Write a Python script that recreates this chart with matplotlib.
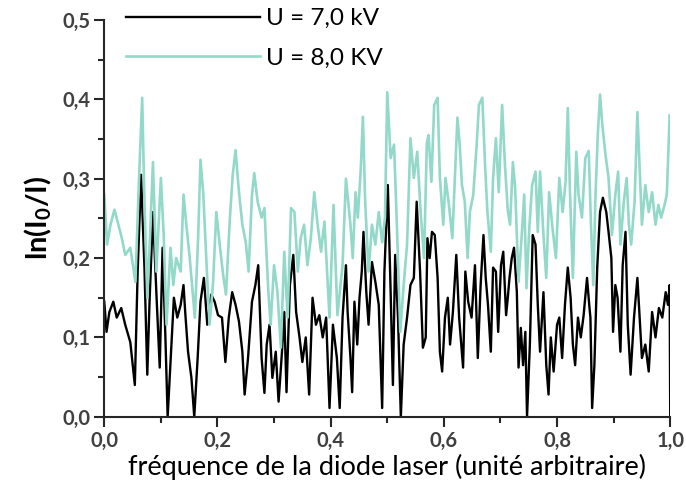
import matplotlib
matplotlib.use("Agg")
import matplotlib.pyplot as plt
from matplotlib.ticker import MultipleLocator, FuncFormatter

plt.rcParams['font.family'] = ['Lato', 'DejaVu Sans']
plt.rcParams['mathtext.default'] = 'regular'

# U = 8,0 kV (courbe turquoise)
x_8kv = [0.000, 0.005, 0.011, 0.018, 0.025, 0.031, 0.037, 0.046, 0.055, 0.061,
         0.067, 0.071, 0.076, 0.081, 0.086, 0.092, 0.100, 0.105, 0.110, 0.117,
         0.122, 0.127, 0.135, 0.140, 0.145, 0.151, 0.155, 0.160, 0.166, 0.170,
         0.175, 0.181, 0.186, 0.192, 0.198, 0.204, 0.210, 0.215, 0.222, 0.227,
         0.232, 0.238, 0.244, 0.250, 0.255, 0.261, 0.265, 0.271, 0.278, 0.283,
         0.287, 0.290, 0.294, 0.300, 0.306, 0.312, 0.318, 0.324, 0.330, 0.336,
         0.342, 0.347, 0.353, 0.359, 0.365, 0.371, 0.377, 0.383, 0.389, 0.398,
         0.405, 0.412, 0.421, 0.427, 0.435, 0.439, 0.444, 0.448, 0.453, 0.457,
         0.461, 0.467, 0.473, 0.479, 0.485, 0.491, 0.496, 0.500, 0.506, 0.512,
         0.517, 0.523, 0.529, 0.535, 0.541, 0.547, 0.553, 0.559, 0.565, 0.570,
         0.573, 0.578, 0.583, 0.589, 0.593, 0.599, 0.603, 0.609, 0.615, 0.619,
         0.624, 0.628, 0.632, 0.637, 0.642, 0.646, 0.652, 0.658, 0.662, 0.668,
         0.673, 0.677, 0.683, 0.687, 0.692, 0.697, 0.703, 0.708, 0.713, 0.717,
         0.722, 0.726, 0.732, 0.738, 0.742, 0.746, 0.751, 0.756, 0.762, 0.766,
         0.770, 0.776, 0.781, 0.786, 0.792, 0.798, 0.804, 0.810, 0.815, 0.819,
         0.823, 0.828, 0.834, 0.838, 0.844, 0.850, 0.856, 0.860, 0.864, 0.868,
         0.872, 0.876, 0.880, 0.885, 0.891, 0.897, 0.903, 0.908, 0.912, 0.918,
         0.923, 0.927, 0.931, 0.937, 0.942, 0.946, 0.950, 0.956, 0.962, 0.968,
         0.974, 0.979, 0.984, 0.990, 0.994, 0.999]
y_8kv = [0.280, 0.217, 0.242, 0.261, 0.242, 0.225, 0.204, 0.213, 0.170, 0.292,
         0.402, 0.271, 0.150, 0.229, 0.321, 0.183, 0.301, 0.229, 0.116, 0.213,
         0.166, 0.200, 0.183, 0.280, 0.242, 0.200, 0.166, 0.125, 0.229, 0.324,
         0.280, 0.188, 0.116, 0.166, 0.258, 0.217, 0.179, 0.154, 0.251, 0.305,
         0.336, 0.283, 0.242, 0.220, 0.183, 0.280, 0.307, 0.271, 0.251, 0.263,
         0.200, 0.157, 0.116, 0.191, 0.157, 0.087, 0.208, 0.125, 0.263, 0.258,
         0.183, 0.225, 0.242, 0.191, 0.225, 0.283, 0.242, 0.208, 0.246, 0.125,
         0.267, 0.128, 0.191, 0.300, 0.242, 0.200, 0.283, 0.251, 0.309, 0.378,
         0.271, 0.183, 0.242, 0.217, 0.258, 0.220, 0.251, 0.409, 0.326, 0.343,
         0.242, 0.107, 0.166, 0.217, 0.351, 0.301, 0.334, 0.258, 0.200, 0.345,
         0.355, 0.296, 0.393, 0.402, 0.301, 0.242, 0.301, 0.267, 0.225, 0.292,
         0.377, 0.343, 0.292, 0.271, 0.200, 0.258, 0.280, 0.343, 0.393, 0.402,
         0.314, 0.258, 0.208, 0.301, 0.351, 0.283, 0.393, 0.317, 0.260, 0.242,
         0.321, 0.288, 0.170, 0.233, 0.280, 0.162, 0.238, 0.292, 0.309, 0.233,
         0.309, 0.229, 0.175, 0.283, 0.238, 0.200, 0.301, 0.258, 0.296, 0.389,
         0.280, 0.175, 0.334, 0.280, 0.251, 0.326, 0.335, 0.242, 0.166, 0.280,
         0.355, 0.406, 0.368, 0.334, 0.301, 0.229, 0.280, 0.309, 0.217, 0.271,
         0.301, 0.242, 0.217, 0.271, 0.384, 0.314, 0.242, 0.292, 0.258, 0.283,
         0.242, 0.267, 0.251, 0.267, 0.280, 0.380]

# U = 7,0 kV (courbe noire)
x_7kv = [0.000, 0.004, 0.009, 0.016, 0.022, 0.030, 0.037, 0.046, 0.054, 0.059,
         0.065, 0.071, 0.076, 0.080, 0.086, 0.092, 0.098, 0.103, 0.108, 0.112,
         0.118, 0.123, 0.129, 0.135, 0.140, 0.143, 0.148, 0.154, 0.159, 0.165,
         0.170, 0.176, 0.182, 0.189, 0.195, 0.201, 0.208, 0.214, 0.220, 0.226,
         0.232, 0.238, 0.244, 0.248, 0.254, 0.261, 0.267, 0.272, 0.278, 0.283,
         0.287, 0.292, 0.297, 0.303, 0.308, 0.314, 0.318, 0.322, 0.328, 0.334,
         0.339, 0.345, 0.350, 0.356, 0.362, 0.368, 0.374, 0.380, 0.386, 0.392,
         0.398, 0.404, 0.411, 0.416, 0.421, 0.427, 0.430, 0.435, 0.438, 0.442,
         0.447, 0.451, 0.455, 0.458, 0.463, 0.467, 0.473, 0.479, 0.485, 0.491,
         0.495, 0.501, 0.506, 0.510, 0.514, 0.519, 0.524, 0.529, 0.535, 0.541,
         0.547, 0.552, 0.558, 0.563, 0.568, 0.571, 0.575, 0.579, 0.584, 0.589,
         0.593, 0.597, 0.602, 0.607, 0.611, 0.616, 0.622, 0.627, 0.634, 0.638,
         0.643, 0.649, 0.655, 0.660, 0.665, 0.670, 0.674, 0.678, 0.683, 0.687,
         0.692, 0.696, 0.701, 0.705, 0.710, 0.713, 0.716, 0.720, 0.724, 0.729,
         0.732, 0.736, 0.740, 0.744, 0.747, 0.752, 0.757, 0.762, 0.766, 0.770,
         0.776, 0.781, 0.785, 0.789, 0.794, 0.800, 0.804, 0.809, 0.814, 0.819,
         0.824, 0.828, 0.832, 0.837, 0.842, 0.847, 0.853, 0.857, 0.859, 0.862,
         0.866, 0.871, 0.876, 0.881, 0.887, 0.891, 0.896, 0.899, 0.903, 0.907,
         0.912, 0.916, 0.921, 0.925, 0.930, 0.936, 0.942, 0.946, 0.950, 0.956,
         0.962, 0.968, 0.974, 0.980, 0.986, 0.992, 0.996, 0.999, 1.000]
y_7kv = [0.145, 0.107, 0.132, 0.145, 0.125, 0.137, 0.116, 0.094, 0.040, 0.183,
         0.305, 0.188, 0.053, 0.145, 0.258, 0.157, 0.062, 0.213, 0.100, 0.000,
         0.082, 0.150, 0.125, 0.141, 0.166, 0.132, 0.082, 0.049, 0.000, 0.074,
         0.145, 0.175, 0.116, 0.154, 0.145, 0.128, 0.125, 0.069, 0.125, 0.157,
         0.141, 0.120, 0.082, 0.028, 0.074, 0.145, 0.166, 0.191, 0.074, 0.030,
         0.091, 0.116, 0.049, 0.082, 0.019, 0.082, 0.132, 0.031, 0.166, 0.204,
         0.132, 0.100, 0.069, 0.100, 0.028, 0.150, 0.116, 0.128, 0.100, 0.125,
         0.011, 0.116, 0.074, 0.011, 0.125, 0.191, 0.132, 0.074, 0.031, 0.145,
         0.091, 0.150, 0.183, 0.233, 0.157, 0.116, 0.195, 0.170, 0.141, 0.011,
         0.183, 0.292, 0.157, 0.040, 0.204, 0.125, 0.000, 0.091, 0.125, 0.166,
         0.175, 0.271, 0.183, 0.087, 0.100, 0.225, 0.200, 0.233, 0.229, 0.175,
         0.082, 0.057, 0.125, 0.150, 0.091, 0.132, 0.204, 0.125, 0.062, 0.183,
         0.145, 0.125, 0.191, 0.074, 0.166, 0.229, 0.175, 0.141, 0.082, 0.188,
         0.183, 0.107, 0.191, 0.208, 0.128, 0.150, 0.175, 0.200, 0.213, 0.157,
         0.062, 0.112, 0.065, 0.107, 0.000, 0.091, 0.229, 0.217, 0.141, 0.082,
         0.157, 0.065, 0.028, 0.100, 0.057, 0.116, 0.125, 0.074, 0.141, 0.188,
         0.150, 0.091, 0.065, 0.125, 0.100, 0.128, 0.175, 0.140, 0.125, 0.011,
         0.065, 0.188, 0.258, 0.276, 0.258, 0.233, 0.200, 0.107, 0.166, 0.150,
         0.082, 0.191, 0.233, 0.116, 0.053, 0.125, 0.175, 0.125, 0.074, 0.091,
         0.057, 0.132, 0.100, 0.137, 0.125, 0.157, 0.141, 0.166, 0.000]

fig = plt.figure(figsize=(6.86, 4.88), dpi=100)
ax = fig.add_axes([0.152, 0.146, 0.825, 0.813])

ax.plot(x_7kv, y_7kv, color='black', linewidth=1.7, label='U = 7,0 kV')
ax.plot(x_8kv, y_8kv, color='#93d9c9', linewidth=1.9, label='U = 8,0 KV')

ax.set_xlim(0, 1.0)
ax.set_ylim(0, 0.5)

ax.xaxis.set_major_locator(MultipleLocator(0.2))
ax.xaxis.set_minor_locator(MultipleLocator(0.1))
ax.yaxis.set_major_locator(MultipleLocator(0.1))
ax.yaxis.set_minor_locator(MultipleLocator(0.05))
virgule = FuncFormatter(lambda v, p: f"{v:.1f}".replace('.', ','))
ax.xaxis.set_major_formatter(virgule)
ax.yaxis.set_major_formatter(virgule)

for side in ['top', 'right']:
    ax.spines[side].set_visible(False)
for side in ['left', 'bottom']:
    ax.spines[side].set_linewidth(1.5)
    ax.spines[side].set_color('#262626')

ax.tick_params(which='major', direction='out', length=7, width=1.5, color='#262626',
               labelsize=14.5, labelcolor='#404040', pad=3)
ax.tick_params(which='minor', direction='out', length=4, width=1.5, color='#262626')
for lab in ax.get_xticklabels() + ax.get_yticklabels():
    lab.set_fontweight('bold')

ax.set_xlabel('fréquence de la diode laser (unité arbitraire)', fontsize=19.5, labelpad=2)
ax.set_ylabel('ln(I$_0$/I)', fontsize=21, fontweight='bold', labelpad=6)

ax.legend(loc='upper left', bbox_to_anchor=(0.0, 1.085), frameon=False, fontsize=17.5,
          handlelength=5.5, handletextpad=0.25, labelspacing=0.75)

fig.savefig('out.png', dpi=100)
